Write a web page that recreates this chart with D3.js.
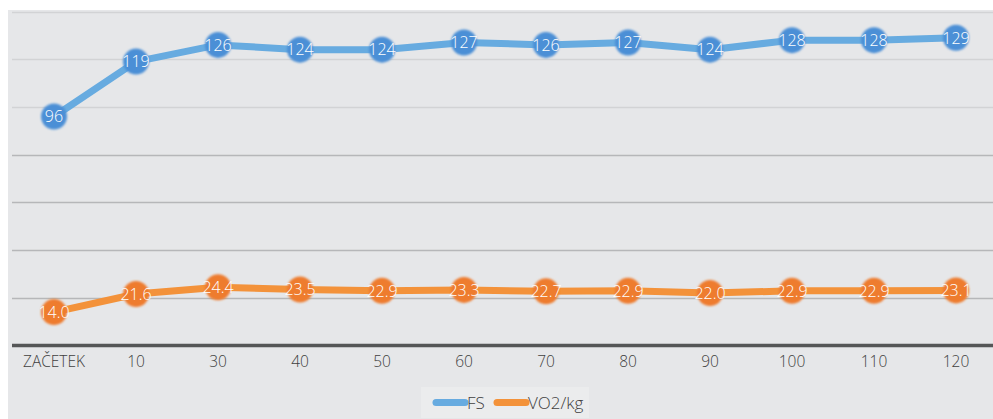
<!DOCTYPE html>
<html>
<head>
<meta charset="utf-8">
<script src="https://cdn.jsdelivr.net/npm/d3@7"></script>
<style>
  html, body { margin: 0; padding: 0; background: #ffffff; }
  svg { display: block; }
</style>
</head>
<body>
<svg id="chart" width="993" height="419"></svg>
<script>
// Test stages and the two measured series
const categories = ["ZAČETEK", "10", "30", "40", "50", "60", "70", "80", "90", "100", "110", "120"];
const fsValues = [96, 119, 126, 124, 124, 127, 126, 127, 124, 128, 128, 129];
const vo2Values = [14.0, 21.6, 24.4, 23.5, 22.9, 23.3, 22.7, 22.9, 22.0, 22.9, 22.9, 23.1];
const gridTicks = [20, 40, 60, 80, 100, 120, 140];

const series = [
  { name: "FS", values: fsValues, line: "#67abe0", dot: "#4b8fd6", fmt: d3.format("d") },
  { name: "VO2/kg", values: vo2Values, line: "#f3923a", dot: "#ee7b2d", fmt: d3.format(".1f") }
];

const svg = d3.select("#chart");
const W = 993, H = 419;
const FONT = "'Open Sans', 'Noto Sans', sans-serif";

// chart area background
svg.append("rect").attr("x", 8).attr("y", 10).attr("width", W - 8).attr("height", H - 10)
  .attr("fill", "#e6e7e9");

const x = d3.scaleBand().domain(categories).range([13, 997]);
const y = d3.scaleLinear().domain([0, 140]).range([345.5, 11.5]);

// horizontal gridlines
svg.append("g").selectAll("line").data(gridTicks).join("line")
  .attr("x1", 12).attr("x2", W)
  .attr("y1", d => Math.round(y(d)) + 0.5).attr("y2", d => Math.round(y(d)) + 0.5)
  .attr("stroke", d => d >= 100 ? "#d2d3d5" : "#b6b7b9")
  .attr("stroke-width", 1.3);

// category axis
const xAxis = d3.axisBottom(x).tickSize(0).tickPadding(10);
const gx = svg.append("g").attr("transform", `translate(0,${y(0)})`).call(xAxis);
gx.select(".domain").remove();
gx.append("line").attr("x1", 12).attr("x2", W).attr("y1", 0).attr("y2", 0)
  .attr("stroke", "#555657").attr("stroke-width", 3.5);
gx.selectAll(".tick text")
  .attr("fill", "#404040")
  .style("font-family", FONT)
  .style("font-size", "15.5px")
  .style("font-weight", 300);

const cx = d => x(d) + x.bandwidth() / 2;
const line = d3.line().x((d, i) => cx(categories[i])).y(d => y(d));

const glow = svg.append("defs").append("filter").attr("id", "soft")
  .attr("x", "-30%").attr("y", "-30%").attr("width", "160%").attr("height", "160%");
glow.append("feGaussianBlur").attr("stdDeviation", 0.8);

series.forEach(s => {
  const g = svg.append("g");
  g.append("path").datum(s.values)
    .attr("d", line)
    .attr("fill", "none")
    .attr("stroke", s.line)
    .attr("stroke-width", 7)
    .attr("stroke-linejoin", "round");
  g.selectAll("circle").data(s.values).join("circle")
    .attr("cx", (d, i) => cx(categories[i]))
    .attr("cy", d => y(d))
    .attr("r", 13)
    .attr("fill", s.dot)
    .attr("filter", "url(#soft)");
  g.selectAll("text").data(s.values).join("text")
    .attr("x", (d, i) => cx(categories[i]))
    .attr("y", d => y(d))
    .attr("dy", "0.36em")
    .attr("text-anchor", "middle")
    .attr("fill", "#ffffff")
    .style("font-family", FONT)
    .style("font-size", "16px")
    .style("font-weight", 300)
    .text(d => s.fmt(d));
});

// legend
const legend = svg.append("g");
legend.append("rect").attr("x", 421).attr("y", 387).attr("width", 168).attr("height", 31)
  .attr("fill", "#ebeced");
const items = [
  { s: series[0], x0: 433 },
  { s: series[1], x0: 494 }
];
items.forEach(it => {
  legend.append("line")
    .attr("x1", it.x0 + 3).attr("x2", it.x0 + 32)
    .attr("y1", 402.5).attr("y2", 402.5)
    .attr("stroke", it.s.line).attr("stroke-width", 7).attr("stroke-linecap", "round");
  legend.append("text")
    .attr("x", it.x0 + 34).attr("y", 402.5).attr("dy", "0.36em")
    .attr("fill", "#404040")
    .style("font-family", FONT)
    .style("font-size", "17px")
    .style("font-weight", 300)
    .text(it.s.name);
});
</script>
</body>
</html>
